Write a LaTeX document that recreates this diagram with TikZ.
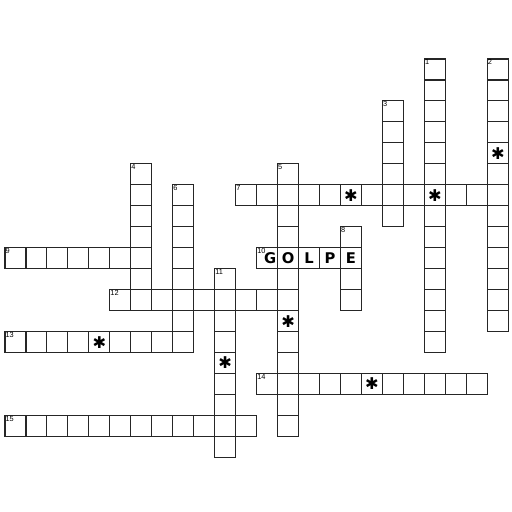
\documentclass[tikz,border=0pt]{standalone}
\usepackage{fontspec}
\setsansfont{Liberation Sans}
\newfontfamily\dejavu{DejaVu Sans}

\begin{document}
\begin{tikzpicture}[x = 0.5cm, y = 0.5cm]
	\tikzstyle{cellStyle} = [shape = rectangle, minimum size = 0.5cm, inner sep = 0pt, draw = black!85, line width = 0.75pt]
	\tikzstyle{numStyle} = [anchor = north west, inner sep = 0.6pt, font = \sffamily\fontsize{5}{5}\selectfont]
	\tikzstyle{letterStyle} = [inner sep = 0pt, font = \dejavu\bfseries\fontsize{10}{10}\selectfont]
	\tikzstyle{starStyle} = [inner sep = 0pt, font = \dejavu\bfseries\fontsize{11}{11}\selectfont]
	\useasboundingbox (-0.238, 2.814) rectangle (24.178, -21.602);
	% down words
	\foreach \r in {0,...,13} {\node[cellStyle] (c-20-\r) at (20.5, -\r-0.5) {};}
	\foreach \r in {0,...,12} {\node[cellStyle] (c-23-\r) at (23.5, -\r-0.5) {};}
	\foreach \r in {2,...,7} {\node[cellStyle] (c-18-\r) at (18.5, -\r-0.5) {};}
	\foreach \r in {5,...,11} {\node[cellStyle] (c-6-\r) at (6.5, -\r-0.5) {};}
	\foreach \r in {5,...,17} {\node[cellStyle] (c-13-\r) at (13.5, -\r-0.5) {};}
	\foreach \r in {6,...,13} {\node[cellStyle] (c-8-\r) at (8.5, -\r-0.5) {};}
	\foreach \r in {8,...,11} {\node[cellStyle] (c-16-\r) at (16.5, -\r-0.5) {};}
	\foreach \r in {10,...,18} {\node[cellStyle] (c-10-\r) at (10.5, -\r-0.5) {};}
	% across words
	\foreach \c in {11,...,23} {\node[cellStyle] (c-\c-6) at (\c+0.5, -6.5) {};}
	\foreach \c in {0,...,6} {\node[cellStyle] (c-\c-9) at (\c+0.5, -9.5) {};}
	\foreach \c in {12,...,16} {\node[cellStyle] (c-\c-9) at (\c+0.5, -9.5) {};}
	\foreach \c in {5,...,13} {\node[cellStyle] (c-\c-11) at (\c+0.5, -11.5) {};}
	\foreach \c in {0,...,8} {\node[cellStyle] (c-\c-13) at (\c+0.5, -13.5) {};}
	\foreach \c in {12,...,22} {\node[cellStyle] (c-\c-15) at (\c+0.5, -15.5) {};}
	\foreach \c in {0,...,11} {\node[cellStyle] (c-\c-17) at (\c+0.5, -17.5) {};}
	% numbers
	\node[numStyle] (n1) at (c-20-0.north west) {1};
	\node[numStyle] (n2) at (c-23-0.north west) {2};
	\node[numStyle] (n3) at (c-18-2.north west) {3};
	\node[numStyle] (n4) at (c-6-5.north west) {4};
	\node[numStyle] (n5) at (c-13-5.north west) {5};
	\node[numStyle] (n6) at (c-8-6.north west) {6};
	\node[numStyle] (n7) at (c-11-6.north west) {7};
	\node[numStyle] (n8) at (c-16-8.north west) {8};
	\node[numStyle] (n9) at (c-0-9.north west) {9};
	\node[numStyle] (n10) at (c-12-9.north west) {10};
	\node[numStyle] (n11) at (c-10-10.north west) {11};
	\node[numStyle] (n12) at (c-5-11.north west) {12};
	\node[numStyle] (n13) at (c-0-13.north west) {13};
	\node[numStyle] (n14) at (c-12-15.north west) {14};
	\node[numStyle] (n15) at (c-0-17.north west) {15};
	% GOLPE
	\node[letterStyle, xshift = 2pt] (lG) at (c-12-9) {G};
	\node[letterStyle] (lO) at (c-13-9) {O};
	\node[letterStyle] (lL) at (c-14-9) {L};
	\node[letterStyle] (lP) at (c-15-9) {P};
	\node[letterStyle] (lE) at (c-16-9) {E};
	% stars
	\node[starStyle] (s1) at (c-23-4) {✱};
	\node[starStyle] (s2) at (c-16-6) {✱};
	\node[starStyle] (s3) at (c-20-6) {✱};
	\node[starStyle] (s4) at (c-13-12) {✱};
	\node[starStyle] (s5) at (c-4-13) {✱};
	\node[starStyle] (s6) at (c-10-14) {✱};
	\node[starStyle] (s7) at (c-17-15) {✱};
\end{tikzpicture}
\end{document}
